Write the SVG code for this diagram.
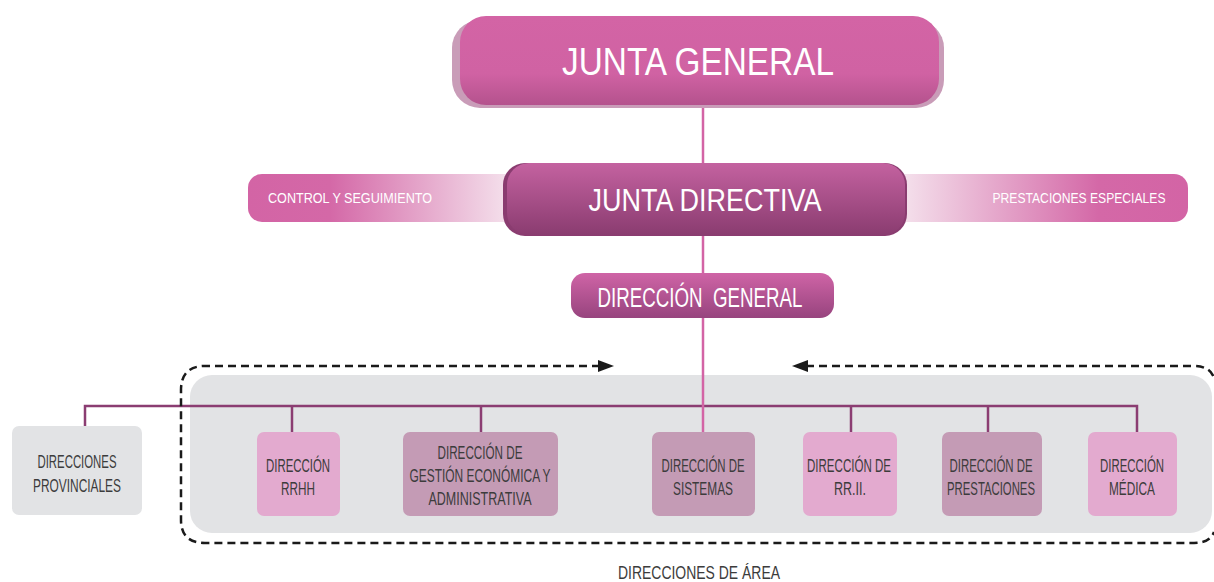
<svg xmlns="http://www.w3.org/2000/svg" width="1214" height="582" viewBox="0 0 1214 582">
<defs>
<linearGradient id="gJG" x1="0" y1="0" x2="0" y2="1">
<stop offset="0" stop-color="#d364a5"/><stop offset="0.65" stop-color="#d062a3"/><stop offset="1" stop-color="#b4528d"/>
</linearGradient>
<linearGradient id="gJD" x1="0" y1="0" x2="0" y2="1">
<stop offset="0" stop-color="#c462a0"/><stop offset="1" stop-color="#8a3c70"/>
</linearGradient>
<linearGradient id="gDG" x1="0" y1="0" x2="0" y2="1">
<stop offset="0" stop-color="#cf64a6"/><stop offset="1" stop-color="#97447e"/>
</linearGradient>
<linearGradient id="gL" x1="248" y1="0" x2="520" y2="0" gradientUnits="userSpaceOnUse">
<stop offset="0" stop-color="#d364a5"/><stop offset="0.3" stop-color="#d468a7"/><stop offset="0.95" stop-color="#f4dfeb"/>
</linearGradient>
<linearGradient id="gR" x1="890" y1="0" x2="1188" y2="0" gradientUnits="userSpaceOnUse">
<stop offset="0.05" stop-color="#f4dfeb"/><stop offset="0.7" stop-color="#d468a7"/><stop offset="1" stop-color="#d364a5"/>
</linearGradient>
</defs>
<style>
.t{font-family:"Liberation Sans Narrow","Liberation Sans",Arial,sans-serif;}
.w{fill:#ffffff;}
.d{fill:#3c3c3c;font-size:19px;}
.bus{stroke:#8b3d72;stroke-width:2.5;fill:none;}
.pk{stroke:#d364a5;stroke-width:2.5;fill:none;}
.dash{stroke:#1a1a1a;stroke-width:2.5;fill:none;stroke-dasharray:8 5;}
.lp{fill:#e3aacf;}
.dp{fill:#c49bb5;}
</style>

<!-- background area -->
<rect x="190" y="375" width="1022" height="158" rx="22" fill="#e2e3e5"/>

<!-- side bars -->
<g id="control">
<rect x="248" y="174" width="290" height="48" rx="14" fill="url(#gL)"/>
<text class="t w" x="350" y="203" font-size="15" text-anchor="middle" textLength="164" lengthAdjust="spacingAndGlyphs">CONTROL Y SEGUIMIENTO</text>
</g>
<g id="prestaciones-especiales">
<rect x="880" y="174" width="308" height="48" rx="14" fill="url(#gR)"/>
<text class="t w" x="1079" y="203" font-size="15" text-anchor="middle" textLength="173" lengthAdjust="spacingAndGlyphs">PRESTACIONES ESPECIALES</text>
</g>

<!-- connectors -->
<g id="connectors">
<line class="pk" x1="703" y1="104" x2="703" y2="165"/>
<line class="pk" x1="703" y1="234" x2="703" y2="275"/>
<polyline class="bus" points="85,426 85,406 1137,406 1137,432"/>
<line class="bus" x1="292" y1="406" x2="292" y2="432"/>
<line class="bus" x1="481" y1="406" x2="481" y2="432"/>
<line class="bus" x1="851" y1="406" x2="851" y2="432"/>
<line class="bus" x1="988" y1="406" x2="988" y2="432"/>
<line class="pk" x1="703" y1="317" x2="703" y2="432"/>
<path class="dash" d="M600,366 L205,366 Q181,366 181,390 L181,520 Q181,543 205,543 L1194,543 Q1210,543 1214,532"/>
<path class="dash" d="M806,366 L1194,366 Q1210,366 1214,378"/>
<path d="M598,360 L614,366 L598,372 z" fill="#1a1a1a"/>
<path d="M808,360 L792,366 L808,372 z" fill="#1a1a1a"/>
</g>

<g id="junta-general">
<rect x="452" y="20" width="492" height="88" rx="28" fill="#c99cb8"/>
<rect x="460" y="16" width="479" height="89" rx="26" fill="url(#gJG)"/>
<text class="t w" x="698" y="75" font-size="39" text-anchor="middle" textLength="272" lengthAdjust="spacingAndGlyphs">JUNTA GENERAL</text>
</g>

<g id="junta-directiva">
<rect x="503" y="163" width="404" height="73" rx="22" fill="#8a3c70"/>
<rect x="507" y="163" width="398" height="72" rx="22" fill="url(#gJD)"/>
<text class="t w" x="705" y="211" font-size="31" text-anchor="middle" textLength="233" lengthAdjust="spacingAndGlyphs">JUNTA DIRECTIVA</text>
</g>

<g id="direccion-general">
<rect x="571" y="273" width="263" height="45" rx="14" fill="url(#gDG)"/>
<text class="t w" x="700" y="307" font-size="27" text-anchor="middle" textLength="205" lengthAdjust="spacingAndGlyphs" xml:space="preserve">DIRECCIÓN  GENERAL</text>
</g>

<g id="direcciones-provinciales">
<rect x="12" y="426" width="130" height="89" rx="7" fill="#e2e3e5"/>
<text class="t d" x="77" y="468" text-anchor="middle" textLength="79" lengthAdjust="spacingAndGlyphs">DIRECCIONES</text>
<text class="t d" x="77" y="492" text-anchor="middle" textLength="88" lengthAdjust="spacingAndGlyphs">PROVINCIALES</text>
</g>

<g id="dir-rrhh">
<rect class="lp" x="257" y="432" width="83" height="84" rx="7"/>
<text class="t d" x="298" y="472" text-anchor="middle" textLength="64" lengthAdjust="spacingAndGlyphs">DIRECCIÓN</text>
<text class="t d" x="298" y="495" text-anchor="middle" textLength="34" lengthAdjust="spacingAndGlyphs">RRHH</text>
</g>

<g id="dir-gestion">
<rect class="dp" x="403" y="432" width="155" height="84" rx="7"/>
<text class="t d" x="480" y="459" text-anchor="middle" textLength="85" lengthAdjust="spacingAndGlyphs">DIRECCIÓN DE</text>
<text class="t d" x="480" y="482" text-anchor="middle" textLength="141" lengthAdjust="spacingAndGlyphs">GESTIÓN ECONÓMICA Y</text>
<text class="t d" x="480" y="505" text-anchor="middle" textLength="103" lengthAdjust="spacingAndGlyphs">ADMINISTRATIVA</text>
</g>

<g id="dir-sistemas">
<rect class="dp" x="652" y="432" width="103" height="84" rx="7"/>
<text class="t d" x="703" y="472" text-anchor="middle" textLength="83" lengthAdjust="spacingAndGlyphs">DIRECCIÓN DE</text>
<text class="t d" x="703" y="495" text-anchor="middle" textLength="60" lengthAdjust="spacingAndGlyphs">SISTEMAS</text>
</g>

<g id="dir-rrii">
<rect class="lp" x="803" y="432" width="94" height="84" rx="7"/>
<text class="t d" x="849" y="472" text-anchor="middle" textLength="84" lengthAdjust="spacingAndGlyphs">DIRECCIÓN DE</text>
<text class="t d" x="850" y="495" text-anchor="middle" textLength="32" lengthAdjust="spacingAndGlyphs">RR.II.</text>
</g>

<g id="dir-prestaciones">
<rect class="dp" x="942" y="432" width="100" height="84" rx="7"/>
<text class="t d" x="991" y="472" text-anchor="middle" textLength="83" lengthAdjust="spacingAndGlyphs">DIRECCIÓN DE</text>
<text class="t d" x="991" y="495" text-anchor="middle" textLength="88" lengthAdjust="spacingAndGlyphs">PRESTACIONES</text>
</g>

<g id="dir-medica">
<rect class="lp" x="1088" y="432" width="89" height="84" rx="7"/>
<text class="t d" x="1132" y="472" text-anchor="middle" textLength="64" lengthAdjust="spacingAndGlyphs">DIRECCIÓN</text>
<text class="t d" x="1132" y="495" text-anchor="middle" textLength="46" lengthAdjust="spacingAndGlyphs">MÉDICA</text>
</g>

<text class="t d" x="699" y="579" text-anchor="middle" textLength="162" lengthAdjust="spacingAndGlyphs">DIRECCIONES DE ÁREA</text>
</svg>
